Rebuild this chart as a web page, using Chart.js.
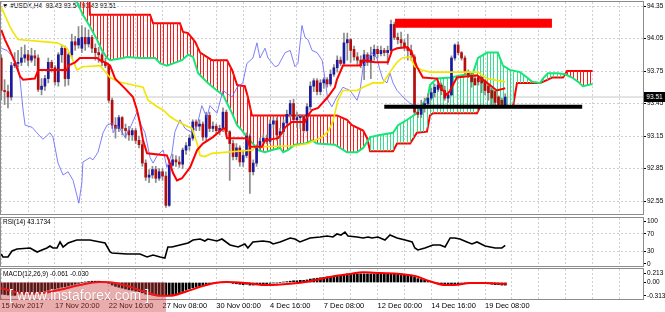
<!DOCTYPE html>
<html>
<head>
<meta charset="utf-8">
<script src="https://cdn.jsdelivr.net/npm/chart.js@4.4.1/dist/chart.umd.min.js"></script>
<style>
  body { margin: 0; background: #fff; }
  #wrap { position: relative; width: 665px; height: 312px; overflow: hidden; font-family: 'Liberation Sans', Arial, sans-serif; }
  canvas.pane { position: absolute; left: 0; }
  .lbl { position: absolute; font-size: 6.5px; line-height: 8px; color: #000; white-space: nowrap; }
  #wm { position: absolute; left: 0; top: 282px; width: 166px; height: 30px; background: rgba(205, 60, 60, 0.42); z-index: 3; }
  #wm span { position: absolute; left: 9px; top: 5px; font-size: 14px; color: #fff; text-shadow: 0 0 1px #b07070; }
  #bidBox { position: absolute; left: 644px; width: 21px; height: 10px; background: #000; color: #fff; font-size: 6.5px; line-height: 10px; text-align: center; z-index: 3; }
</style>
</head>
<body>
<div id="wrap">
  <div class="lbl" style="left:2px;top:2px;z-index:0">&#9660; #USDX,H4 &nbsp;93.43 93.54 93.43 93.51</div>
  <canvas id="cMain" class="pane" width="665" height="216" style="top:0;z-index:1"></canvas>
  <canvas id="cRsi" class="pane" width="665" height="51" style="top:216px;z-index:1"></canvas>
  <canvas id="cMacd" class="pane" width="665" height="45" style="top:267px;z-index:1"></canvas>
  <div class="lbl" style="left:3px;top:218px;z-index:2">RSI(14) 43.1734</div>
  <div class="lbl" style="left:3px;top:270px;z-index:2">MACD(12,26,9) -0.061 -0.030</div>
  <div id="wm"><span>[ www.instaforex.com ]</span></div>
  <div id="bidBox">93.51</div>
</div>
<script>
// H4 bars, index 0 = 15 Nov 04:00, index 150 = 20 Dec 08:00
const opens = [93.87,93.57,93.56,93.51,93.80,93.82,93.83,93.87,93.90,93.85,93.89,93.87,93.58,93.61,93.68,93.83,93.78,93.65,93.90,93.96,
  93.68,93.90,94.02,93.99,93.96,94.06,94.00,94.06,93.96,93.92,93.90,93.83,93.80,93.48,93.25,93.22,93.32,93.22,93.20,93.16,
  93.20,93.11,93.07,92.90,92.77,92.79,92.84,92.76,92.82,92.78,92.51,92.88,92.93,92.91,92.89,93.02,93.06,93.13,93.28,93.24,
  93.26,93.14,93.34,93.22,93.24,93.20,93.22,93.37,93.19,93.08,92.96,93.04,92.91,92.97,93.15,92.82,92.90,93.04,93.10,93.13,
  93.10,93.26,93.29,93.16,93.19,93.27,93.35,93.45,93.30,93.32,93.33,93.20,93.42,93.61,93.66,93.56,93.64,93.67,93.63,93.72,
  93.78,93.85,93.82,94.01,94.04,93.95,93.88,93.85,93.80,93.90,93.83,93.89,93.95,93.91,93.94,93.92,93.94,94.18,94.06,94.04,
  94.01,93.97,93.94,93.88,93.37,93.35,93.41,93.45,93.50,93.55,93.58,93.62,93.57,93.50,93.53,93.87,93.99,93.92,93.87,93.74,
  93.71,93.68,93.69,93.69,93.66,93.61,93.57,93.56,93.51,93.48,93.43];
const highs = [93.90,93.67,93.62,93.83,93.92,93.94,93.97,93.99,93.94,93.96,93.94,93.90,93.68,93.71,93.87,93.85,93.80,93.92,93.99,93.98,
  93.92,94.09,94.07,94.16,94.17,94.15,94.13,94.08,94.00,93.97,93.92,93.87,93.81,93.50,93.32,93.34,93.33,93.26,93.24,93.22,
  93.22,93.15,93.11,92.93,92.84,92.87,92.87,92.85,92.85,92.82,92.93,92.98,92.97,92.96,93.04,93.09,93.16,93.30,93.30,93.30,
  93.28,93.37,93.37,93.28,93.26,93.25,93.41,93.39,93.20,93.11,93.08,93.06,93.02,93.18,93.17,92.93,93.07,93.13,93.17,93.16,
  93.30,93.32,93.32,93.22,93.30,93.39,93.48,93.49,93.37,93.35,93.34,93.45,93.65,93.68,93.68,93.67,93.69,93.69,93.76,93.81,
  93.89,93.88,94.10,94.10,94.05,93.98,93.92,93.89,93.94,93.92,93.97,93.99,93.98,93.98,93.96,93.98,94.22,94.20,94.10,94.11,
  94.04,94.09,93.99,93.90,93.43,93.48,93.50,93.54,93.59,93.63,93.65,93.64,93.61,93.56,93.89,94.00,94.02,93.93,93.89,93.76,
  93.73,93.71,93.71,93.70,93.67,93.62,93.59,93.57,93.52,93.50,93.54];
const lows = [93.48,93.44,93.41,93.48,93.78,93.79,93.80,93.83,93.80,93.83,93.80,93.56,93.53,93.57,93.64,93.74,93.62,93.61,93.83,93.61,
  93.62,93.87,93.94,93.96,93.92,93.94,93.97,93.92,93.85,93.83,93.80,93.78,93.46,93.22,93.13,93.19,93.16,93.13,93.11,93.11,
  93.08,93.04,92.87,92.74,92.72,92.76,92.72,92.74,92.74,92.49,92.50,92.87,92.87,92.86,92.85,92.98,93.02,93.11,93.20,93.20,
  93.11,93.11,93.19,93.19,93.17,93.16,93.19,93.16,92.74,92.93,92.93,92.87,92.87,92.95,92.62,92.79,92.87,93.02,93.08,93.08,
  93.08,93.22,93.11,93.05,93.16,93.24,93.32,93.27,93.23,93.22,93.18,93.19,93.39,93.56,93.53,93.53,93.59,93.60,93.61,93.70,
  93.74,93.80,93.80,93.85,93.83,93.85,93.81,93.78,93.67,93.80,93.68,93.85,93.87,93.89,93.89,93.81,93.92,94.04,94.00,93.97,
  93.94,93.85,93.85,93.35,93.32,93.32,93.37,93.42,93.48,93.51,93.56,93.53,93.48,93.46,93.52,93.85,93.90,93.85,93.72,93.69,
  93.60,93.63,93.62,93.55,93.53,93.48,93.44,93.42,93.42,93.42,93.42];
const closes = [93.57,93.56,93.51,93.80,93.82,93.83,93.87,93.90,93.85,93.89,93.87,93.58,93.61,93.68,93.83,93.78,93.65,93.90,93.96,93.68,
  93.90,94.02,93.99,94.05,94.06,94.00,94.06,93.96,93.92,93.90,93.83,93.80,93.48,93.25,93.22,93.32,93.22,93.20,93.16,93.20,
  93.11,93.07,92.90,92.77,92.79,92.84,92.76,92.82,92.78,92.51,92.88,92.93,92.91,92.89,93.02,93.06,93.13,93.28,93.24,93.26,
  93.14,93.34,93.22,93.24,93.20,93.22,93.37,93.19,93.08,92.96,93.04,92.91,92.97,93.15,92.82,92.90,93.04,93.10,93.13,93.10,
  93.26,93.29,93.16,93.19,93.27,93.35,93.45,93.30,93.32,93.33,93.20,93.42,93.61,93.66,93.56,93.64,93.67,93.63,93.72,93.78,
  93.85,93.82,94.01,94.04,93.94,93.88,93.85,93.80,93.90,93.83,93.89,93.95,93.91,93.94,93.92,93.94,94.18,94.06,94.04,94.01,
  93.97,93.94,93.90,93.37,93.35,93.41,93.45,93.50,93.55,93.60,93.62,93.57,93.50,93.53,93.87,93.99,93.92,93.87,93.74,93.71,
  93.65,93.62,93.65,93.64,93.57,93.55,93.50,93.46,93.44,93.44,93.51];

// Ichimoku lines as [bar index, price]
const tenkan = [[0,94.13],[1.1,94.04],[2.6,93.94],[4.1,93.83],[5.6,93.70],[6.5,93.67],[10,93.68],[11,93.76],[19.6,93.76],[19.9,93.80],
  [22,93.83],[23.4,93.87],[28.5,93.87],[29.4,93.85],[31.5,93.82],[32.4,93.80],[33.9,93.68],[36.8,93.59],[39.2,93.51],[40.4,93.39],
  [41.3,93.27],[42.2,93.11],[43.4,92.99],[49.3,92.97],[50.2,92.90],[51.1,92.81],[52.3,92.74],[53.8,92.76],[56.2,92.86],[58.3,93.02],
  [60,93.08],[63,93.14],[66,93.22],[66.6,93.22],[67.2,93.13],[73.1,93.13],[74,93.05],[77.6,93.05],[78.5,93.11],[82.4,93.13],
  [83.6,93.18],[84.5,93.23],[86.5,93.28],[90.4,93.28],[91.3,93.34],[92.5,93.39],[94.3,93.41],[97.2,93.51],[99.3,93.60],[99.9,93.67],
  [101.7,93.80],[106.8,93.80],[107.7,93.85],[111.2,93.83],[115.1,93.83],[116.3,93.94],[117.8,93.96],[120.8,93.97],[122.2,93.92],
  [123.7,93.79],[125.5,93.69],[129.7,93.68],[130.6,93.60],[132.7,93.53],[133.6,93.57],[135.6,93.69],[141.6,93.71],[144.6,93.64],
  [147.5,93.57],[150,93.59]];
const kijun = [[0,94.34],[2.6,94.16],[3.5,94.11],[5,94.04],[16.6,94.01],[18,93.99],[19.6,93.96],[21,93.87],[22.5,93.76],[24.3,93.79],
  [29.4,93.80],[32.4,93.69],[34.8,93.65],[39.2,93.62],[42.2,93.60],[43.7,93.48],[46.4,93.42],[48.2,93.39],[50.2,93.33],[51.7,93.30],
  [54.7,93.25],[56.8,93.22],[58.3,93.08],[59.2,92.97],[60.6,92.96],[62.7,92.99],[74.9,93.02],[75.5,93.05],[87.4,93.06],[91.3,93.08],
  [95.5,93.14],[97.2,93.19],[98.7,93.28],[100.2,93.48],[101.7,93.57],[105.9,93.57],[107.7,93.60],[110.6,93.64],[113.6,93.64],
  [115.7,93.74],[117.8,93.83],[119.3,93.87],[121.7,93.88],[123.1,93.79],[125.2,93.76],[127.6,93.74],[141.9,93.74],[144.6,93.68],[150,93.65]];
const chikou = [[0,93.96],[1.7,93.94],[3.5,93.88],[5,93.79],[5.6,93.67],[6.5,93.39],[7.1,93.25],[9.2,93.23],[10.6,93.18],[12.4,93.12],
  [14.5,93.18],[15.4,93.14],[16.9,92.90],[18.4,92.79],[19.9,92.82],[21.4,92.74],[23.1,92.53],[24,92.72],[24.3,92.91],[26.4,92.95],
  [27.3,92.93],[28.8,93.00],[30.3,93.18],[31.5,93.25],[33,93.27],[33.3,93.18],[34.5,93.25],[35.3,93.22],[36.8,93.14],[38.3,93.22],
  [40.4,93.37],[41.3,93.27],[42.8,93.18],[44.3,92.95],[45.2,92.90],[46.4,92.97],[48.2,93.02],[49.3,92.86],[50.8,92.99],[51.7,93.19],
  [53.2,93.30],[54.7,93.22],[56.8,93.18],[58.3,93.25],[59.7,93.43],[61.2,93.32],[62.1,93.43],[64.2,93.36],[66,93.57],[68.7,93.51],
  [70.2,93.60],[71.9,93.64],[73.1,93.82],[74.9,93.87],[76.1,94.01],[77,93.87],[78.5,93.96],[79.4,93.87],[81.5,93.79],[82.4,93.80],
  [84.5,93.92],[86,93.94],[87.4,93.79],[88.3,93.82],[89.5,94.17],[90.4,94.06],[91.3,94.04],[92.5,93.94],[94,93.92],[95.5,93.85],
  [96.4,93.67],[97.2,93.48],[98.4,93.42],[99.9,93.51],[101.7,93.60],[103.8,93.57],[105.9,93.48],[106.8,93.57],[107.7,93.79],
  [108.9,93.87],[110.3,93.92],[111.8,93.87],[112.7,93.76],[113.6,93.67],[114.8,93.64],[115.7,93.73],[116.6,93.64],[117.8,93.57],
  [119.6,93.51],[121.7,93.45],[124,93.43]];
const senkouA = [[0,94.50],[22.5,94.39],[24.3,94.27],[26.4,94.16],[28.5,94.04],[30,93.94],[31.5,93.87],[32.4,93.85],[36.2,93.87],
  [37.4,93.88],[41.3,93.87],[45.8,93.87],[47.3,93.82],[49.3,93.80],[53.8,93.85],[55.6,93.90],[57.1,93.88],[58.6,93.73],[61.5,93.64],
  [64.2,93.57],[66,93.53],[68.7,93.36],[70.2,93.25],[71.7,93.20],[73.4,93.13],[74.9,93.08],[76.4,93.02],[78.5,93.00],[80.6,93.02],
  [83,93.04],[83.9,93.00],[85.3,93.02],[87.4,93.07],[90.4,93.08],[92.5,93.11],[94,93.08],[99.3,93.07],[100.8,93.04],[102.9,93.00],
  [105.9,93.00],[107.7,93.04],[109.2,93.11],[109.8,93.14],[112.7,93.16],[116.6,93.18],[118.1,93.25],[120.8,93.30],[123.7,93.36],
  [125.5,93.45],[127,93.51],[127.6,93.62],[129.7,93.68],[133.6,93.69],[140.4,93.73],[141.9,93.87],[144.6,93.92],[147.8,93.92],
  [149.3,93.80],[151.4,93.76],[154.4,93.74],[156.5,93.69],[158,93.65],[160.4,93.64],[161.2,93.68],[162.7,93.73],[165.7,93.73],
  [167.8,93.72],[169.9,93.69],[171.7,93.65],[173.1,93.61],[176,93.63]];
const senkouB = [[0,94.60],[26.1,94.60],[26.4,94.27],[44.3,94.27],[45.2,94.19],[53.2,94.19],[54.1,94.11],[55.6,94.10],[57.7,94.02],
  [59.2,93.92],[62.7,93.85],[67.2,93.85],[68.7,93.76],[70.2,93.62],[72.5,93.61],[73.4,93.51],[74.6,93.34],[99.9,93.34],[102.9,93.30],
  [104.4,93.25],[107.7,93.20],[108.9,93.13],[109.8,93.01],[116.6,93.01],[117.8,93.08],[121.7,93.08],[123.7,93.18],[126.7,93.19],
  [127.6,93.34],[128.5,93.36],[141.6,93.36],[142.5,93.42],[152.3,93.42],[153.5,93.64],[160.4,93.64],[162.7,93.67],[163.9,93.69],
  [167.2,93.69],[168.4,93.75],[176,93.75]];

// drawn levels
const resistanceZone = { from: 117.2, to: 163.9, price: 94.19 };
const supportLine = { from: 114, to: 172.9, price: 93.42 };
const bidPrice = 93.51;

// oscillators
const rsi = [[0,23.3],[0.5,16.3],[2,16.3],[3.2,30.2],[4.7,34.9],[8.6,37.2],[10.7,27.9],[12.1,32.6],[13.6,37.2],[14.5,41.9],
  [15.4,37.2],[16.6,37.2],[17.5,51.2],[18.4,39.5],[19.9,48.8],[22.5,55.8],[26.4,55.8],[29.4,51.2],[30.9,48.8],[32.4,27.9],
  [33,25.6],[37.4,23.3],[41.3,23.3],[43.4,16.3],[45.2,20.9],[47.3,16.3],[48.7,14.0],[49.6,39.5],[50.8,39.5],[53.2,44.2],
  [55.6,48.8],[57.1,55.8],[59.2,58.1],[60.6,53.5],[61.5,58.1],[64.2,53.5],[65.7,58.1],[68.1,44.2],[70.5,39.5],[72.5,46.5],
  [73.4,37.2],[74.9,51.2],[77.9,53.5],[80,51.2],[80.9,46.5],[83,51.2],[86,60.5],[87.4,58.1],[88.9,51.2],[91.9,60.5],
  [94.9,62.8],[97,65.1],[98.7,62.8],[99.9,69.8],[101.1,67.4],[102.3,74.4],[103.2,65.1],[105.9,62.8],[107.7,60.5],[109.2,62.8],
  [110.3,60.5],[112.1,62.8],[114.2,55.8],[115.7,67.4],[117.8,60.5],[120.2,55.8],[122.3,51.2],[123.1,37.2],[124,32.6],[126.1,37.2],
  [128.5,44.2],[130.6,44.2],[132.1,39.5],[133.6,60.5],[135,60.5],[136.5,58.1],[138.6,51.2],[140.1,46.5],[141.6,51.2],[144,41.9],
  [145.5,39.5],[147,37.2],[149,37.2],[150,43.17]];
const macdMain = [-0.27,-0.28,-0.29,-0.30,-0.30,-0.29,-0.28,-0.27,-0.26,-0.25,-0.24,-0.24,-0.22,-0.20,-0.18,-0.16,-0.15,-0.13,-0.11,-0.10,
  -0.08,-0.06,-0.04,-0.02,0.00,0.01,0.02,0.03,0.03,0.03,0.02,0.01,-0.02,-0.06,-0.09,-0.11,-0.13,-0.15,-0.17,-0.18,
  -0.20,-0.22,-0.24,-0.27,-0.28,-0.29,-0.30,-0.30,-0.31,-0.31,-0.30,-0.28,-0.26,-0.24,-0.21,-0.18,-0.15,-0.12,-0.10,-0.08,
  -0.07,-0.05,-0.03,-0.02,-0.01,0.00,0.01,0.01,0.00,-0.02,-0.03,-0.04,-0.05,-0.04,-0.06,-0.06,-0.05,-0.04,-0.03,-0.03,
  -0.02,-0.01,-0.01,0.00,0.01,0.02,0.03,0.04,0.04,0.05,0.05,0.06,0.08,0.09,0.10,0.11,0.12,0.13,0.14,0.15,
  0.16,0.17,0.19,0.20,0.20,0.20,0.20,0.20,0.20,0.20,0.20,0.20,0.19,0.19,0.19,0.19,0.21,0.21,0.20,0.20,
  0.19,0.18,0.17,0.12,0.09,0.07,0.05,0.03,0.01,-0.01,-0.02,-0.03,-0.04,-0.05,-0.05,-0.04,-0.03,-0.02,-0.01,-0.01,
  -0.01,-0.01,-0.01,-0.02,-0.02,-0.03,-0.04,-0.05,-0.05,-0.06,-0.061];
const macdSignal = [[0,-0.13],[4.1,-0.22],[8.6,-0.27],[13,-0.24],[17.5,-0.17],[23.4,-0.06],[29.4,0.01],[33.9,-0.01],[38.3,-0.10],
  [42.8,-0.22],[47.3,-0.31],[50.2,-0.31],[54.7,-0.22],[59.2,-0.10],[63.6,-0.01],[67.2,0.01],[72.5,-0.01],[79.1,-0.06],[86,-0.03],
  [91.9,0.03],[97.8,0.13],[103.8,0.20],[107.7,0.24],[112.7,0.22],[118.7,0.20],[123.1,0.15],[127.6,0.03],[132.1,-0.06],[135,-0.06],
  [139.5,-0.01],[144,-0.01],[148.4,-0.03],[150.5,-0.03]];

// axes
const priceTicks = [92.55, 92.85, 93.15, 93.45, 93.75, 94.05, 94.35];
const rsiTicks = [0, 30, 70, 100];
const rsiLevels = [30, 70];
const macdTicks = [-0.313, 0, 0.213];
const dateTickIdx = [0, 16, 32, 48, 64, 80, 96, 112, 128, 144];
const dateLabels = ['15 Nov 2017', '17 Nov 20:00', '22 Nov 16:00', '27 Nov 08:00', '30 Nov 00:00',
  '4 Dec 16:00', '7 Dec 08:00', '12 Dec 00:00', '14 Dec 16:00', '19 Dec 08:00'];

const xMin = -0.07, xMax = 191.0;
const gridIdx = [];
for (let i = 0; i <= 184; i += 8) gridIdx.push(i);
const gridColor = '#cfcfd8';
const FONT = "'Liberation Sans', Arial, sans-serif";

const xy = arr => arr.map(([x, y]) => ({ x, y }));

function stripes(ctx, color) {
  const c = document.createElement('canvas');
  c.width = 10; c.height = 4;
  const g = c.getContext('2d');
  g.fillStyle = color;
  [0, 3, 7].forEach(x => g.fillRect(x, 0, 1, 4));
  return ctx.createPattern(c, 'repeat');
}

const framePlugin = {
  id: 'frame',
  afterDraw(chart) {
    const { ctx, chartArea: a } = chart;
    ctx.save();
    ctx.strokeStyle = '#8c8c8c';
    ctx.lineWidth = 1;
    ctx.strokeRect(a.left - 0.5, a.top - 0.5, a.right - a.left + 1, a.bottom - a.top + 1);
    ctx.restore();
  }
};

function xAxis(withLabels) {
  return {
    type: 'linear', min: xMin, max: xMax, offset: false,
    afterBuildTicks: s => { s.ticks = gridIdx.map(v => ({ value: v })); },
    afterFit: s => { s.paddingLeft = 0; s.paddingRight = 0; if (withLabels) s.height = 13; },
    grid: { color: gridColor, drawTicks: false, offset: false },
    border: { display: false, dash: [2, 2] },
    ticks: withLabels ? {
      display: true, autoSkip: false, maxRotation: 0, align: 'start', padding: 2,
      color: '#000', font: { family: FONT, size: 7.5 },
      callback: v => { const k = dateTickIdx.indexOf(v); return k >= 0 ? dateLabels[k] : ''; }
    } : { display: false }
  };
}

function yAxis(min, max, ticks, fmt, gridFn) {
  return {
    position: 'right', min, max,
    afterBuildTicks: s => { s.ticks = ticks.map(v => ({ value: v })); },
    afterFit: s => { s.width = 22; s.paddingTop = 0; s.paddingBottom = 0; },
    grid: { color: gridFn || gridColor, drawTicks: true, tickLength: 3, tickColor: '#000', tickBorderDash: [] },
    border: { display: true, color: '#8c8c8c', dash: [2, 2] },
    ticks: { padding: 1, color: '#000', font: { family: FONT, size: 6.5 }, callback: fmt }
  };
}

const baseOpts = {
  responsive: false, animation: false, devicePixelRatio: 1, events: [],
  plugins: { legend: { display: false }, tooltip: { enabled: false } }
};

// ---- main price chart ----
const mainCanvas = document.getElementById('cMain');
const mctx = mainCanvas.getContext('2d');
const greenHatch = stripes(mctx, '#36e08a');
const redHatch = stripes(mctx, '#ff1a1a');
const bull = '#1b1b9e', bear = '#b80c0c';
const candleColors = closes.map((c, i) => c >= opens[i] ? bull : bear);

const mainSets = [
  { type: 'line', label: 'bid', data: [{ x: 0, y: bidPrice }, { x: xMax, y: bidPrice }],
    borderColor: '#c8c8c8', borderWidth: 1, pointRadius: 0, order: 30 },
  { type: 'line', label: 'Senkou B', data: xy(senkouB), borderColor: '#ff0000', borderWidth: 2,
    pointRadius: 0, order: 21 },
  { type: 'line', label: 'Senkou A', data: xy(senkouA), borderColor: '#14e678', borderWidth: 2,
    pointRadius: 0, order: 20, fill: { target: 1, above: greenHatch, below: redHatch } },
  { type: 'bar', label: 'wick', data: highs.map((h, i) => ({ x: i, y: [lows[i], h] })),
    backgroundColor: '#8a8a8a', barThickness: 1, grouped: false, order: 15 },
  { type: 'bar', label: 'body', data: opens.map((o, i) => ({ x: i, y: [o, closes[i]] })),
    backgroundColor: candleColors, barThickness: 2, minBarLength: 1, grouped: false, order: 14 },
  { type: 'line', label: 'Chikou', data: xy(chikou), borderColor: 'rgba(95,95,250,0.8)', borderWidth: 1,
    pointRadius: 0, order: 6 },
  { type: 'line', label: 'Kijun', data: xy(kijun), borderColor: '#f2e600', borderWidth: 1.6,
    pointRadius: 0, order: 5 },
  { type: 'line', label: 'Tenkan', data: xy(tenkan), borderColor: '#ff0000', borderWidth: 2,
    pointRadius: 0, order: 4 },
  { type: 'line', label: 'zone', data: [{ x: resistanceZone.from, y: resistanceZone.price }, { x: resistanceZone.to, y: resistanceZone.price }],
    borderColor: '#ff0000', borderWidth: 9, borderCapStyle: 'butt', pointRadius: 0, order: 1 },
  { type: 'line', label: 'support', data: [{ x: supportLine.from, y: supportLine.price }, { x: supportLine.to, y: supportLine.price }],
    borderColor: '#000000', borderWidth: 4, borderCapStyle: 'butt', pointRadius: 0, order: 1 }
];

const bidPlugin = {
  id: 'bidBox',
  afterDraw(chart) {
    const y = chart.scales.y.getPixelForValue(closes[closes.length - 1]);
    document.getElementById('bidBox').style.top = (y - 5) + 'px';
  }
};

new Chart(mainCanvas, {
  type: 'line',
  data: { datasets: mainSets },
  options: {
    ...baseOpts,
    layout: { padding: { left: 1, right: 0, top: 2, bottom: 2 } },
    scales: {
      x: xAxis(false),
      y: yAxis(92.43, 94.387, priceTicks, v => v.toFixed(2))
    }
  },
  plugins: [framePlugin, bidPlugin]
});

// ---- RSI ----
new Chart(document.getElementById('cRsi'), {
  type: 'line',
  data: { datasets: [
    { data: xy(rsi), borderColor: '#000', borderWidth: 1.6, pointRadius: 0 }
  ] },
  options: {
    ...baseOpts,
    layout: { padding: { left: 1, right: 0, top: 2, bottom: 1 } },
    scales: {
      x: xAxis(false),
      y: yAxis(-4.7, 107, rsiTicks, v => String(v),
        c => rsiLevels.includes(c.tick && c.tick.value) ? gridColor : 'rgba(0,0,0,0)')
    }
  },
  plugins: [framePlugin]
});

// ---- MACD ----
new Chart(document.getElementById('cMacd'), {
  type: 'line',
  data: { datasets: [
    { type: 'line', data: xy(macdSignal), borderColor: '#ff0000', borderWidth: 2, pointRadius: 0,
      cubicInterpolationMode: 'monotone', order: 1 },
    { type: 'bar', data: macdMain.map((v, i) => ({ x: i, y: v })), backgroundColor: '#000',
      barThickness: 2, grouped: false, order: 2 }
  ] },
  options: {
    ...baseOpts,
    layout: { padding: { left: 1, right: 0, top: 2, bottom: 0 } },
    scales: {
      x: xAxis(true),
      y: yAxis(-0.384, 0.314, macdTicks, v => v === 0 ? '0.00' : String(v), () => 'rgba(0,0,0,0)')
    }
  },
  plugins: [framePlugin]
});
</script>
</body>
</html>
